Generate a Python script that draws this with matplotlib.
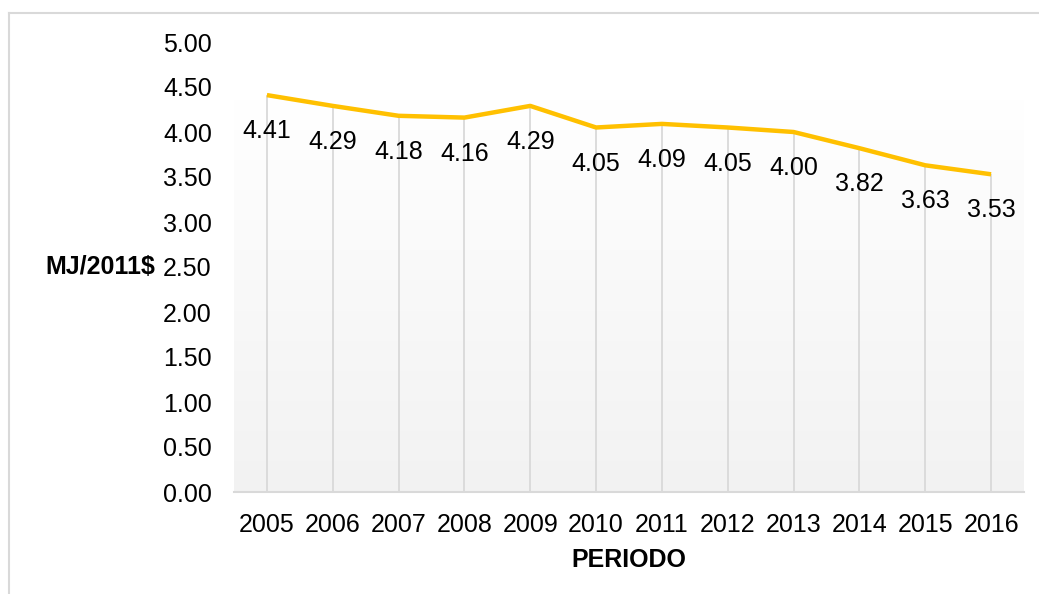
import matplotlib.pyplot as plt
import numpy as np
from matplotlib.lines import Line2D

plt.rcParams['font.family'] = ['Liberation Sans', 'DejaVu Sans']

years = ['2005', '2006', '2007', '2008', '2009', '2010',
         '2011', '2012', '2013', '2014', '2015', '2016']
values = [4.41, 4.29, 4.18, 4.16, 4.29, 4.05, 4.09, 4.05, 4.00, 3.82, 3.63, 3.53]
yticks = [0.0, 0.5, 1.0, 1.5, 2.0, 2.5, 3.0, 3.5, 4.0, 4.5, 5.0]

fs = 18

fig = plt.figure(figsize=(10.39, 5.94), dpi=100)
ax = fig.add_axes([234 / 1039, 1 - 492 / 594, 790 / 1039, 450 / 594])

x = np.arange(len(years))

# light gradient behind the series
grad = np.linspace(1.0, 0.0, 256).reshape(-1, 1)
ax.imshow(grad, aspect='auto', cmap=plt.matplotlib.colors.LinearSegmentedColormap.from_list(
    'g', ['#f2f2f2', '#ffffff']), extent=(-0.5, len(years) - 0.5, 0, 4.36),
    zorder=0, vmin=0, vmax=1)

# drop lines
ax.vlines(x, 0, values, color='#d9d9d9', lw=1.3, zorder=1)

ax.plot(x, values, color='#FFC000', lw=3.2, solid_capstyle='butt', zorder=3)

for xi, v in zip(x, values):
    ax.annotate(f'{v:.2f}', (xi, v), xytext=(0, -26), textcoords='offset points',
                ha='center', va='center', fontsize=fs, color='#000000', zorder=4)

ax.set_xlim(-0.5, len(years) - 0.5)
ax.set_ylim(0, 5)
ax.set_xticks(x)
ax.set_xticklabels(years, fontsize=fs)
ax.set_yticks(yticks)
ax.set_yticklabels([f'{t:.2f}' for t in yticks], fontsize=fs)
ax.tick_params(axis='both', length=0)
ax.tick_params(axis='y', pad=16)
ax.tick_params(axis='x', pad=15)

for side in ['top', 'right', 'left']:
    ax.spines[side].set_visible(False)
ax.spines['bottom'].set_color('#d9d9d9')
ax.spines['bottom'].set_linewidth(1.5)

ax.set_xlabel('PERIODO', fontsize=fs, fontweight='bold', labelpad=8)
fig.text(100 / 1039, 1 - 267 / 594, 'MJ/2011$', fontsize=fs, fontweight='bold',
         ha='center', va='center')

# chart border (only top and left visible)
fig.add_artist(Line2D([9 / 1039, 9 / 1039], [0, 1 - 12.5 / 594], color='#d9d9d9', lw=1.5))
fig.add_artist(Line2D([9 / 1039, 1], [1 - 12.5 / 594, 1 - 12.5 / 594], color='#d9d9d9', lw=1.5))

fig.savefig('out.png', dpi=100)
